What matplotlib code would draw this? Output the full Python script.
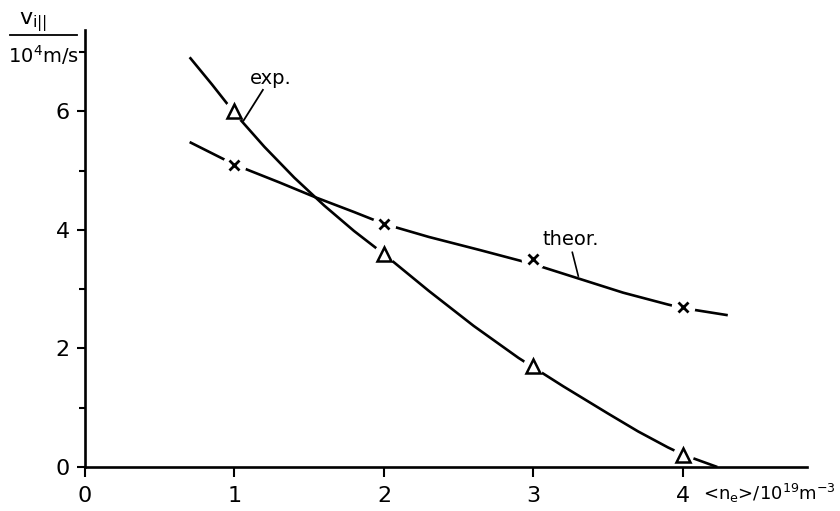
import matplotlib
matplotlib.use('Agg')
import matplotlib.pyplot as plt
from matplotlib.ticker import MultipleLocator, FixedLocator

# measured points
n_meas = [1, 2, 3, 4]
v_exp = [6.0, 3.6, 1.7, 0.2]
v_theor = [5.1, 4.1, 3.5, 2.7]

# hand-drawn guide curves through the measurements
exp_curve_x = [0.70, 0.85, 1.00, 1.20, 1.40, 1.60, 1.80, 2.00, 2.30, 2.60, 2.90, 3.20, 3.50, 3.70, 3.90, 4.00, 4.12, 4.23]
exp_curve_y = [6.91, 6.45, 5.97, 5.40, 4.88, 4.41, 3.98, 3.59, 2.97, 2.38, 1.84, 1.36, 0.90, 0.60, 0.33, 0.21, 0.10, 0.00]
theor_curve_x = [0.70, 1.00, 1.30, 1.54, 1.80, 2.00, 2.30, 2.64, 3.00, 3.30, 3.60, 3.90, 4.00, 4.30]
theor_curve_y = [5.48, 5.10, 4.80, 4.55, 4.30, 4.10, 3.88, 3.66, 3.42, 3.18, 2.94, 2.74, 2.68, 2.56]

x_ticks = [0, 1, 2, 3, 4]
y_ticks = [0, 2, 4, 6]

plt.rcParams.update({
    'font.family': ['DejaVu Sans'],
    'font.size': 16,
})

fig = plt.figure(figsize=(8.4, 5.11), dpi=100)
ax = fig.add_axes([85 / 840, 44 / 511, (807 - 85) / 840, (467 - 30) / 511])
ax.set_xlim(0, 4.83)
ax.set_ylim(0, 7.37)

lw = 1.9
ax.plot(exp_curve_x, exp_curve_y, color='black', lw=lw, zorder=2, solid_capstyle='butt')
ax.plot(theor_curve_x, theor_curve_y, color='black', lw=lw, zorder=2, solid_capstyle='butt')

# white patches leave small gaps in the curves around each marker
ax.plot(n_meas, v_exp, ls='none', marker='o', ms=14, mfc='white', mec='white', zorder=3)
ax.plot(n_meas, v_theor, ls='none', marker='o', ms=16, mfc='white', mec='white', zorder=3)
ax.plot(n_meas, v_exp, ls='none', marker='^', ms=10, mfc='white', mec='black', mew=1.8, zorder=4)
ax.plot(n_meas, v_theor, ls='none', marker='x', ms=7.5, mec='black', mew=2.0, zorder=4)

# curve labels with leader lines
ax.text(1.24, 6.56, 'exp.', ha='center', va='center', fontsize=14)
ax.plot([1.19, 1.06], [6.36, 5.84], color='black', lw=1.3, zorder=2)
ax.text(3.25, 3.83, 'theor.', ha='center', va='center', fontsize=14)
ax.plot([3.26, 3.30], [3.62, 3.22], color='black', lw=1.2, zorder=2)

for side in ['top', 'right']:
    ax.spines[side].set_visible(False)
for side in ['left', 'bottom']:
    ax.spines[side].set_linewidth(1.9)
    ax.spines[side].set_zorder(5)

ax.xaxis.set_major_locator(FixedLocator(x_ticks))
ax.set_xticklabels([str(t) for t in x_ticks])
ax.yaxis.set_major_locator(FixedLocator(y_ticks))
ax.set_yticklabels([str(t) for t in y_ticks])
ax.yaxis.set_minor_locator(MultipleLocator(1))
ax.tick_params(axis='x', direction='out', length=7, width=1.5, pad=7)
ax.tick_params(axis='y', which='major', direction='out', length=6, width=1.5, pad=5)
ax.tick_params(axis='y', which='minor', direction='out', length=4, width=1.5)

# x-axis quantity written beside the last tick label
fig.text(703 / 840, (511 - 505) / 511, r'<n$_\mathrm{e}$>/10$^{19}$m$^{-3}$',
         ha='left', va='bottom', fontsize=13)

# y-axis quantity as a fraction above the axis
fig.text(33 / 840, 1 - 22 / 511, r'v$_{\mathrm{i}||}$', ha='center', va='center', fontsize=16)
fig.add_artist(plt.Line2D([10 / 840, 77 / 840], [1 - 35 / 511, 1 - 35 / 511],
                          color='black', lw=1.3))
fig.text(44 / 840, 1 - 55 / 511, r'10$^4$m/s', ha='center', va='center', fontsize=14)

fig.savefig('out.png', dpi=100, facecolor='white')
